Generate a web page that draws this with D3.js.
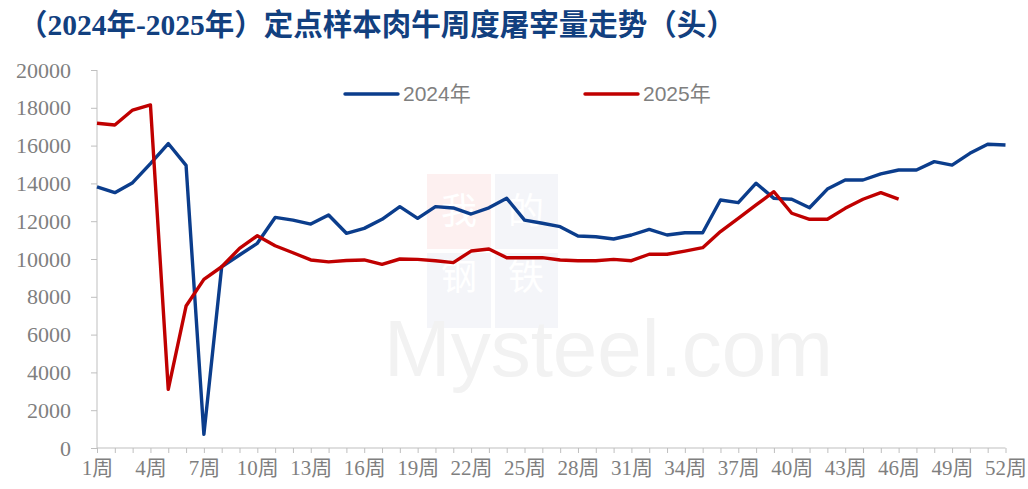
<!DOCTYPE html>
<html>
<head>
<meta charset="utf-8">
<script src="https://cdn.jsdelivr.net/npm/d3@7"></script>
<style>
  body { margin: 0; background: #fff; }
  svg { display: block; }
  .axis path, .axis line { stroke: #bfbfbf; }
</style>
</head>
<body>
<div id="plot"></div>
<script>
const width = 1028;
const height = 489;

// ----- DATA ------------------------//
const weeks = d3.range(1, 53);
const tickLabels = weeks.filter(w => (w - 1) % 3 === 0).map(w => w + "周");
const yTicks = [0, 2000, 4000, 6000, 8000, 10000, 12000, 14000, 16000, 18000, 20000];

const series2024 = [13820, 13510, 14040, 15050, 16110, 14950, 720, 9590, 10210, 10830,
    12200, 12060, 11850, 12330, 11360, 11620, 12100, 12770, 12150, 12770,
    12700, 12380, 12710, 13210, 12060, 11890, 11710, 11220, 11180, 11060,
    11270, 11570, 11270, 11390, 11390, 13120, 12980, 14010, 13210, 13160,
    12710, 13700, 14180, 14180, 14500, 14710, 14710, 15150, 14970, 15590,
    16070, 16030];
const series2025 = [17180, 17090, 17880, 18150, 3100, 7510, 8920, 9590, 10560, 11230,
    10700, 10330, 9950, 9850, 9920, 9950, 9720, 10000, 9980, 9910,
    9810, 10420, 10530, 10070, 10070, 10070, 9950, 9910, 9910, 9980,
    9910, 10250, 10250, 10420, 10600, 11450, 12150, 12860, 13560, 12420,
    12100, 12100, 12680, 13160, 13510, 13170];

const seriesNames = ["2024年", "2025年"];
const colors = ["#0b3d8c", "#c00000"];

// append SVG first
const svg = d3.select("#plot").append("svg")
    .attr("width", width)
    .attr("height", height);

// watermark (faint, behind everything)
const wm = svg.append("g").attr("class", "watermark");
wm.append("rect").attr("x", 427).attr("y", 174).attr("width", 64).attr("height", 75).attr("fill", "#fdf0f0");
wm.append("rect").attr("x", 495).attr("y", 174).attr("width", 63).attr("height", 75).attr("fill", "#f4f5f9");
wm.append("rect").attr("x", 427).attr("y", 253).attr("width", 64).attr("height", 75).attr("fill", "#f4f5f9");
wm.append("rect").attr("x", 495).attr("y", 253).attr("width", 63).attr("height", 75).attr("fill", "#f4f5f9");
[["我", 459, 224], ["的", 526, 224], ["钢", 459, 290], ["铁", 526, 290]].forEach(c => {
    wm.append("text").attr("x", c[1]).attr("y", c[2])
        .attr("text-anchor", "middle")
        .style("font-family", "'Noto Sans CJK SC'")
        .style("font-size", "36px")
        .style("fill", "#ffffff")
        .text(c[0]);
});
wm.append("text")
    .attr("x", 384).attr("y", 376)
    .style("font-family", "'Liberation Sans', Arial, sans-serif")
    .style("font-size", "80px")
    .style("fill", "#f2f2f2")
    .text("Mysteel.com");

// ----- SCALES ------------------------//
const xScl = d3.scalePoint().domain(weeks).range([97, 1005.5]);
const yScl = d3.scaleLinear().domain([0, 20000]).range([448, 70]);

// x axis
const xAxis = d3.axisBottom(xScl)
    .tickSize(5)
    .tickFormat(d => ((d - 1) % 3 === 0 ? d + "周" : ""));

const gx = svg.append("g")
    .attr("class", "axis")
    .attr("transform", "translate(0,448)")
    .call(xAxis);
gx.select(".domain").attr("d", "M97,0H1005.5");
gx.selectAll("text")
    .attr("dy", "0.71em")
    .attr("y", 12)
    .style("font-family", "'Liberation Serif', 'Times New Roman', 'Noto Sans CJK SC', serif")
    .style("font-size", "21px")
    .style("fill", "#7f7f7f");

// y axis
const yAxis = d3.axisLeft(yScl)
    .tickValues(yTicks)
    .tickSize(6)
    .tickFormat(d3.format("d"));

const gy = svg.append("g")
    .attr("class", "axis")
    .attr("transform", "translate(97,0)")
    .call(yAxis);
gy.select(".domain").attr("d", "M0,70V448");
gy.selectAll("text")
    .attr("x", -26)
    .style("font-family", "'Liberation Serif', 'Times New Roman', serif")
    .style("font-size", "22px")
    .style("fill", "#7f7f7f");

// lines
const line = d3.line()
    .x((d, i) => xScl(weeks[i]))
    .y(d => yScl(d));

[series2024, series2025].forEach((s, i) => {
    svg.append("path")
        .datum(s)
        .attr("fill", "none")
        .attr("stroke", colors[i])
        .attr("stroke-width", 3.4)
        .attr("stroke-linejoin", "round")
        .attr("d", line);
});

// legend
const legendX = [345, 585];
seriesNames.forEach((name, i) => {
    const g = svg.append("g").attr("transform", "translate(" + legendX[i] + ",94)");
    g.append("line")
        .attr("x1", 0).attr("x2", 53)
        .attr("stroke", colors[i])
        .attr("stroke-width", 3.4)
        .attr("stroke-linecap", "round");
    g.append("text")
        .attr("x", 58).attr("dy", "0.35em")
        .style("font-family", "'Liberation Sans', Arial, 'Noto Sans CJK SC', sans-serif")
        .style("font-size", "21px")
        .style("fill", "#7f7f7f")
        .text(name);
});

// title
svg.append("text")
    .attr("x", 18).attr("y", 35)
    .style("font-family", "'Liberation Serif', 'Times New Roman', 'Noto Sans CJK SC', serif")
    .style("font-weight", "bold")
    .style("font-size", "29.5px")
    .style("fill", "#12407f")
    .text("（2024年-2025年）定点样本肉牛周度屠宰量走势（头）");
</script>
</body>
</html>
